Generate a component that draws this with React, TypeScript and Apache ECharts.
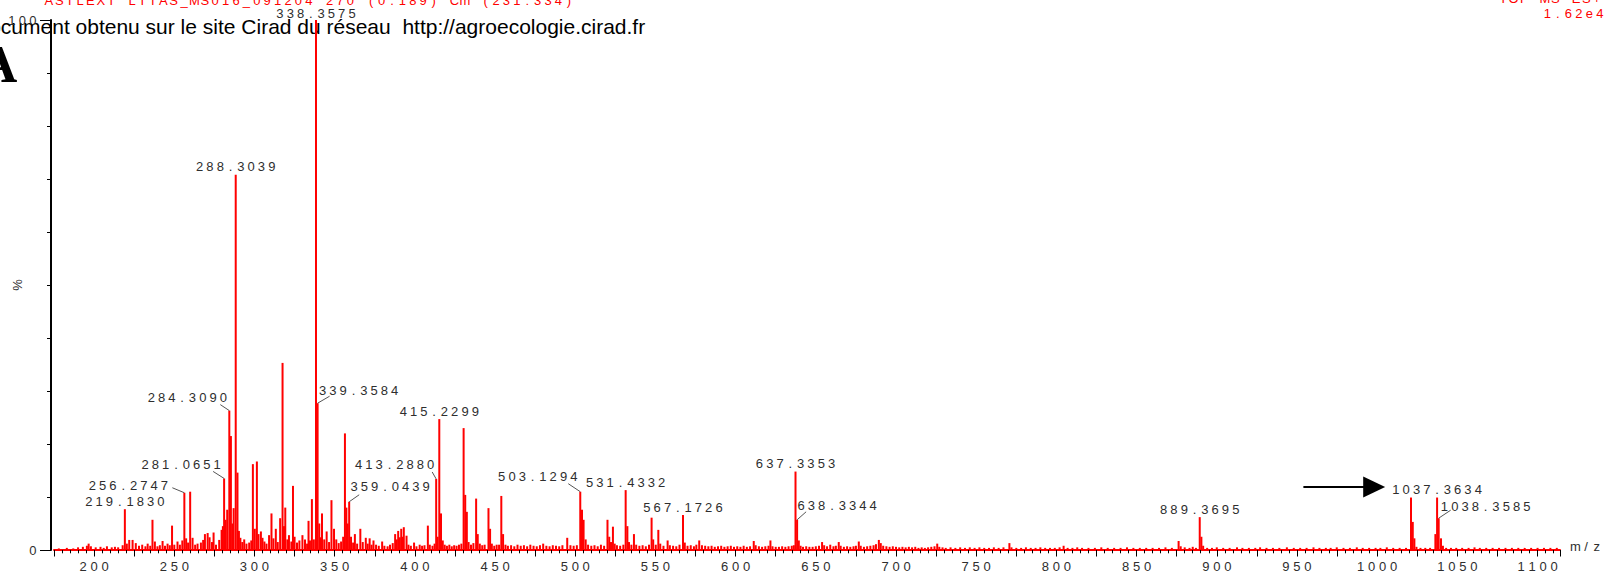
import React, { useEffect, useRef } from "react";
import * as echarts from "echarts";

// ---------- DATA ----------
// Spectrum sticks [m/z, relative intensity %] (unlabelled peaks)
const peaksLow: [number, number][] = [
  [178, 0.3], [183, 0.4], [187, 0.3], [190, 0.5], [193, 0.6], [195.5, 0.8], [196.6, 1.2], [198, 0.7],
  [201, 0.5], [204, 0.6], [206, 0.4], [208, 0.7], [211, 0.5], [213, 0.6], [215, 0.5], [217.8, 0.9],
  [220.4, 1.2], [221.9, 1.9], [224, 1.9], [226, 1.3], [228, 0.8], [230, 1.0], [232, 0.7], [233.4, 1.2],
  [235, 0.8], [236.4, 5.7], [237.9, 1.6], [239.5, 0.7], [241, 0.9], [242.7, 1.7], [244.2, 0.8], [245.8, 1.2],
  [247.2, 0.9], [248.6, 4.6], [250, 1.0], [252, 1.6], [253.5, 1.0], [255, 1.8], [257.4, 2.2], [258.6, 1.4],
  [259.9, 11.0], [261.4, 2.3], [263, 1.0], [264.5, 1.2], [266.6, 1.4], [268, 1.9], [269.1, 3.0], [270.8, 3.2],
  [272, 2.4], [273.5, 1.5], [274.5, 3.3], [276, 1.0], [278, 1.9], [279.5, 3.8],
];
const peaksCluster: [number, number][] = [
  [280.3, 4.5], [282, 5.7], [283, 7.6], [285.3, 21.5], [286.2, 5.0], [287, 7.9], [289.4, 14.6], [290.3, 3.6],
  [291.2, 2.3], [292.4, 1.5], [293.6, 2.0], [295, 1.2], [296.7, 1.4], [298, 1.8], [299, 16.2], [300.2, 4.0],
  [301.5, 16.7], [302.5, 3.0], [304, 3.5], [305, 2.3], [306.2, 1.6], [307.5, 1.2], [309.1, 2.8], [310.6, 6.9],
  [311.8, 2.2], [313.3, 4.0], [314.5, 1.5], [316, 6.0], [317.5, 35.3], [318.4, 4.5], [319.2, 8.0], [320.5, 2.0],
  [321.5, 2.8], [323, 1.6], [324, 12.1], [325, 2.5], [326.5, 1.4], [328, 1.8], [329.9, 2.8], [331.5, 2.0],
  [332.8, 1.2], [333.7, 5.5], [334.6, 1.8], [335.8, 9.6], [337, 2.0], [340.4, 5.0], [341.2, 2.4], [342.1, 6.9],
  [343.5, 2.0], [345, 3.5], [346.5, 1.5], [348, 9.4], [349.6, 4.0], [351, 2.0], [352.5, 1.3], [354, 1.6],
  [355.3, 2.5], [356.4, 22.0], [357.3, 8.0], [358.1, 5.0], [360.2, 2.5],
];
const peaksMid: [number, number][] = [
  [361.5, 1.4], [362.6, 3.0], [364, 1.2], [366, 4.0], [367.5, 1.5], [369.4, 2.3], [370.6, 1.2], [371.8, 2.2],
  [373, 1.0], [374.2, 1.8], [375.8, 1.0], [377.5, 0.8], [379.6, 1.6], [381, 0.8], [383, 0.7], [384.5, 1.0],
  [386.2, 1.3], [387.7, 3.0], [388.7, 2.0], [389.6, 3.6], [390.6, 2.4], [391.5, 4.0], [392.4, 2.5], [393.1, 4.3],
  [394.8, 2.7], [396, 1.0], [397.5, 0.8], [399.5, 1.4], [401, 0.7], [403, 1.0], [404.5, 0.8], [406, 0.9],
  [408.1, 4.6], [409.3, 1.0], [411, 0.8], [412.3, 1.2], [414.2, 2.5], [416.3, 6.9], [417.4, 1.8], [418.6, 1.0],
  [420, 0.8], [421.5, 1.0], [423, 0.7], [424.5, 0.9], [426, 0.8], [427.5, 1.0], [429, 1.2], [430.4, 23.0],
  [431.4, 10.4], [432.4, 7.2], [433.5, 1.5], [435, 1.0], [436.5, 1.3], [438.2, 9.7], [439.2, 3.0], [440.5, 1.2],
  [442, 0.9], [443.5, 1.0], [445.9, 7.9], [446.9, 4.0], [448, 1.2], [449.5, 0.8], [451, 1.0], [452.5, 1.0],
  [453.9, 10.2], [455, 3.0], [456.5, 1.0], [458, 0.8], [460, 0.9], [462, 0.7], [464, 1.0], [466, 0.8],
  [468, 0.9], [470, 0.7], [472, 1.0], [474, 0.8], [476, 0.7], [478, 0.9], [480, 1.2], [482, 0.8],
  [484, 0.7], [486, 0.9], [488, 0.8], [490, 0.7], [492, 0.9], [495, 2.3], [497, 0.9], [499, 0.8],
  [501, 0.9], [504.2, 7.6], [505.2, 5.7], [506.5, 2.0], [508, 1.0], [510, 0.8], [512, 0.9], [514, 0.7],
  [516, 1.0], [518, 0.8],
];
const peaksHigh: [number, number][] = [
  [520.1, 5.7], [521.2, 2.5], [522.3, 1.5], [523.5, 4.4], [524.6, 1.2], [526, 0.9], [528, 0.8], [530, 1.0],
  [532.5, 4.5], [533.5, 1.5], [535, 1.0], [536.6, 3.0], [538, 1.0], [540, 0.8], [542, 0.9], [544, 0.7],
  [546, 1.0], [547.6, 6.1], [548.6, 2.0], [550.2, 1.0], [551.8, 3.8], [553, 1.2], [555, 0.8], [557.6, 1.8],
  [559, 0.9], [561, 0.8], [563, 0.7], [565, 1.0], [568.3, 1.4], [570, 0.8], [572, 0.9], [574, 0.7],
  [575.5, 1.0], [577.3, 1.8], [579, 0.9], [581, 0.8], [583, 0.7], [585, 0.8], [587, 0.6], [589, 0.7],
  [591, 0.8], [593, 0.6], [595, 0.7], [597, 0.8], [599, 0.6], [601, 0.7], [603, 0.6], [605, 0.8],
  [607, 0.6], [609, 0.7], [611.3, 1.7], [612.5, 0.9], [614.5, 0.7], [616.5, 0.6], [618.5, 0.7], [620.5, 0.8],
  [621.7, 1.8], [623, 0.7], [625, 0.6], [627, 0.6], [629, 0.7], [631, 0.6], [633, 0.7], [635, 0.8],
  [636.3, 0.9], [639.4, 1.8], [640.5, 0.8], [642, 0.6], [644, 0.7], [646, 0.6], [648, 0.6], [650, 0.7],
  [652, 0.8], [653.9, 1.5], [655.2, 0.9], [657, 0.7], [659, 1.0], [661, 0.7], [662.5, 0.8], [664.3, 1.5],
  [665.5, 0.8], [667.5, 0.6], [669.5, 0.7], [671.5, 0.6], [673.5, 0.7], [675, 0.8], [676.8, 1.6], [678, 0.8],
  [680, 0.6], [682, 0.7], [684, 0.8], [686, 0.9], [687.5, 1.1], [689.3, 1.9], [690.5, 1.3], [692, 0.8],
  [694, 0.7], [696, 0.6], [698, 0.7],
];
const peaksTail: [number, number][] = [
  [700, 0.6], [702, 0.5], [704, 0.6], [706, 0.5], [708, 0.6], [710, 0.5], [712, 0.6], [714, 0.4],
  [716, 0.5], [718, 0.4], [720, 0.5], [722, 0.6], [724, 0.7], [725.7, 1.2], [727, 0.6], [729, 0.5],
  [731, 0.4], [734, 0.5], [737, 0.4], [740, 0.5], [743, 0.4], [746, 0.5], [749, 0.4], [752, 0.5],
  [755, 0.4], [758, 0.4], [761, 0.5], [764, 0.4], [767, 0.5], [770.7, 1.3], [772, 0.5], [775, 0.4],
  [778, 0.4], [781, 0.5], [784, 0.4], [787, 0.4], [790, 0.5], [793, 0.4], [796, 0.4], [799, 0.4],
  [802, 0.5], [804.5, 0.8], [807, 0.4], [810, 0.4], [813, 0.5], [816, 0.4], [820, 0.4], [824, 0.4],
  [828, 0.5], [832, 0.4], [836, 0.4], [840, 0.4], [844, 0.5], [848, 0.4], [852, 0.4], [856, 0.4],
  [860, 0.4], [864, 0.4], [868, 0.5], [872, 0.4], [876.2, 1.7], [877.5, 0.7], [880, 0.5], [883, 0.4],
  [885, 0.6], [887, 0.4], [890.4, 2.5], [891.5, 0.8], [894, 0.4], [897, 0.4], [900, 0.5], [904, 0.4],
  [908, 0.4], [912.6, 0.5], [916, 0.4], [920, 0.4], [924, 0.4], [927, 0.5], [931, 0.4], [935, 0.4],
  [939, 0.4], [943.7, 0.5], [948, 0.4], [952, 0.4], [956, 0.4], [960.3, 0.5], [964, 0.4], [968, 0.4],
  [971, 0.4], [974.8, 0.5], [979, 0.4], [983, 0.4], [987.3, 0.5], [991, 0.4], [995, 0.4], [999, 0.4],
  [1002, 0.4], [1006, 0.5], [1010, 0.4], [1014, 0.4], [1018, 0.4], [1021.1, 9.9], [1022.2, 5.3], [1023.2, 2.2],
  [1024.5, 0.6], [1027, 0.4], [1030, 0.4], [1033, 0.4], [1036.3, 3.0], [1039.8, 2.2], [1041, 0.8], [1043, 0.4],
  [1046, 0.4], [1049.3, 0.4], [1053, 0.4], [1057, 0.4], [1060.7, 0.5], [1064, 0.4], [1068, 0.4], [1072, 0.4],
  [1076, 0.4], [1080, 0.4], [1084, 0.4], [1088, 0.4], [1092, 0.4], [1096, 0.4], [1100, 0.4], [1104, 0.4],
  [1108, 0.4], [1112, 0.4],
];

// Labelled peaks
const labelMz = [
  "219.1830", "256.2747", "281.0651", "284.3090", "288.3039", "338.3575", "339.3584", "359.0439", "413.2880",
  "415.2299", "503.1294", "531.4332", "567.1726", "637.3353", "638.3344", "889.3695", "1037.3634", "1038.3585",
];
const labelIntensity = [7.7, 10.8, 13.5, 26.3, 70.8, 100, 27.7, 9.1, 13.4, 24.7, 11.0, 11.3, 6.6, 14.8, 5.7, 6.2, 9.9, 6.0];

// Axis
const xMin = 175;
const xMax = 1114;
const xInterval = 25;
const xLabelStep = 50;
const yTicks = [0, 100];

// Texts
const headerLeft = "ASTLEXT LIIAS_MS016_091204 270 (0.189) Cm (231:334)";
const headerRight1 = "TOF MS ES+";
const headerRight2 = "1.62e4";
const noteText = "Document obtenu sur le site Cirad du réseau  http://agroecologie.cirad.fr";
const panelLetter = "A";
const arrowTail = [954, 11.9];
const arrowTip = [1005, 11.9];

// ---------- STYLE (label placement relative to the peak top, px) ----------
const labelPlacement: { dx: number; dy: number; lx?: number; ly?: number }[] = [
  { dx: 0, dy: -8 },
  { dx: -56, dy: -7, lx: -12, ly: -5 },
  { dx: -43, dy: -14, lx: -11, ly: -7 },
  { dx: -42, dy: -13.5, lx: -9, ly: -6 },
  { dx: 0, dy: -8 },
  { dx: 0, dy: -7 },
  { dx: 41, dy: -13, lx: 12, ly: -7 },
  { dx: 41, dy: -15, lx: 10, ly: -7 },
  { dx: -41.5, dy: -14, lx: -4, ly: -7 },
  { dx: 0, dy: -8 },
  { dx: -42.5, dy: -15, lx: -12, ly: -8 },
  { dx: 0, dy: -8 },
  { dx: 0, dy: -8 },
  { dx: 0, dy: -8 },
  { dx: 40, dy: -14, lx: 9, ly: -8 },
  { dx: 0, dy: -8 },
  { dx: 0, dy: -8 },
  { dx: 47, dy: -12, lx: 12, ly: -8 },
];

const RED = "#ff0000";
const GRAY = "#2e2e2e";
const FONT = "Liberation Sans";

const spaced = (s: string) =>
  s
    .split("")
    .map((c) => `{c|${c}}`)
    .join("");
const rich = (cell: number, color: string) => ({
  c: { width: cell, align: "center", fontSize: 13, fontFamily: FONT, color, fill: color },
});

export default function App() {
  const ref = useRef<HTMLDivElement>(null);
  useEffect(() => {
    const chart = echarts.init(ref.current!, null, { renderer: "svg" });
    const sticks = [...peaksLow, ...peaksCluster, ...peaksMid, ...peaksHigh, ...peaksTail];
    labelMz.forEach((m, i) => sticks.push([parseFloat(m), labelIntensity[i]]));
    sticks.sort((a, b) => a[0] - b[0]);
    const labelData = labelMz.map((m, i) => [parseFloat(m), labelIntensity[i], i]);

    chart.setOption({
      animation: false,
      backgroundColor: "#ffffff",
      grid: { left: 54, right: 46, top: 20, bottom: 23, containLabel: false, outerBoundsMode: "none" },
      xAxis: {
        type: "value",
        min: xMin,
        max: xMax,
        interval: xInterval,
        name: spaced("m/z"),
        nameLocation: "end",
        nameGap: 10,
        nameMoveOverlap: false,
        nameTextStyle: { rich: rich(10.7, GRAY), align: "left", verticalAlign: "middle", padding: [0, 0, 8, 0] },
        axisLine: { show: true, onZero: false, lineStyle: { color: RED, width: 2 } },
        axisTick: { show: true, length: 6.5, lineStyle: { color: "#000", width: 1 } },
        minorTick: { show: true, splitNumber: 5, length: 3.3, lineStyle: { color: "#000", width: 1 } },
        axisLabel: {
          margin: 10,
          formatter: (v: number) => (v % xLabelStep === 0 ? spaced(String(v)) : ""),
          rich: rich(11, GRAY),
        },
        splitLine: { show: false },
      },
      yAxis: {
        type: "value",
        min: yTicks[0],
        max: yTicks[1],
        interval: yTicks[1] - yTicks[0],
        offset: 3,
        name: "%",
        nameLocation: "middle",
        nameGap: 27,
        nameRotate: 90,
        nameMoveOverlap: false,
        nameTextStyle: { color: GRAY, fontSize: 13, fontFamily: FONT },
        axisLine: { show: true, lineStyle: { color: "#000", width: 2 } },
        axisTick: { show: true, length: 11, lineStyle: { color: "#000", width: 1 } },
        minorTick: { show: true, splitNumber: 10, length: 4, lineStyle: { color: "#000", width: 1 } },
        axisLabel: { margin: 13, formatter: (v: number) => spaced(String(v)), rich: rich(10.5, GRAY) },
        splitLine: { show: false },
      },
      series: [
        {
          type: "custom",
          name: "spectrum",
          data: sticks,
          z: 2,
          renderItem: (_p: any, api: any) => {
            const top = api.coord([api.value(0), api.value(1)]);
            const base = api.coord([api.value(0), 0]);
            return {
              type: "rect",
              shape: { x: top[0] - 1, y: top[1], width: 2, height: Math.max(base[1] - top[1], 0.5) },
              style: { fill: RED },
            };
          },
        },
        {
          type: "custom",
          name: "labels",
          data: labelData,
          z: 3,
          renderItem: (_p: any, api: any) => {
            const idx = api.value(2);
            const pt = api.coord([api.value(0), api.value(1)]);
            const pl = labelPlacement[idx];
            const children: any[] = [
              {
                type: "text",
                x: pt[0] + pl.dx,
                y: pt[1] + pl.dy,
                style: {
                  text: spaced(labelMz[idx]),
                  rich: rich(10.3, GRAY),
                  fill: GRAY,
                  align: "center",
                  verticalAlign: "middle",
                },
              },
            ];
            if (pl.lx !== undefined) {
              children.push({
                type: "line",
                shape: { x1: pt[0], y1: pt[1], x2: pt[0] + (pl.lx as number), y2: pt[1] + (pl.ly as number) },
                style: { stroke: "#555", lineWidth: 1 },
              });
            }
            return { type: "group", children };
          },
        },
      ],
    });

    const a = chart.convertToPixel({ gridIndex: 0 }, arrowTail) as number[];
    const b = chart.convertToPixel({ gridIndex: 0 }, arrowTip) as number[];
    const headLen = 22;
    const headHalf = 10.5;
    chart.setOption({
      graphic: {
        elements: [
          {
            type: "text",
            x: 574,
            y: 0,
            style: { text: spaced(headerLeft), rich: rich(10.4, RED), fill: RED, align: "right", verticalAlign: "middle" },
          },
          {
            type: "text",
            x: 1602,
            y: -2,
            style: { text: spaced(headerRight1), rich: rich(10.4, RED), fill: RED, align: "right", verticalAlign: "middle" },
          },
          {
            type: "text",
            x: 1605,
            y: 13,
            style: { text: spaced(headerRight2), rich: rich(10.5, RED), fill: RED, align: "right", verticalAlign: "middle" },
          },
          {
            type: "text",
            x: -26,
            y: 26,
            style: { text: noteText, fill: "#000", font: `21px '${FONT}'`, align: "left", verticalAlign: "middle" },
          },
          {
            type: "text",
            x: -21,
            y: 64,
            style: {
              text: panelLetter,
              fill: "#000",
              font: "bold 53px 'Liberation Serif'",
              align: "left",
              verticalAlign: "middle",
            },
          },
          {
            type: "line",
            shape: { x1: a[0], y1: a[1], x2: b[0] - headLen + 1, y2: b[1] },
            style: { stroke: "#000", lineWidth: 2 },
          },
          {
            type: "polygon",
            shape: {
              points: [
                [b[0] - headLen, b[1] - headHalf],
                [b[0], b[1]],
                [b[0] - headLen, b[1] + headHalf],
              ],
            },
            style: { fill: "#000" },
          },
        ],
      },
    });
    return () => chart.dispose();
  }, []);
  return (
    <div
      ref={ref}
      style={{ position: "fixed", left: 0, top: 0, width: 1606, height: 573, background: "#ffffff" }}
    />
  );
}
